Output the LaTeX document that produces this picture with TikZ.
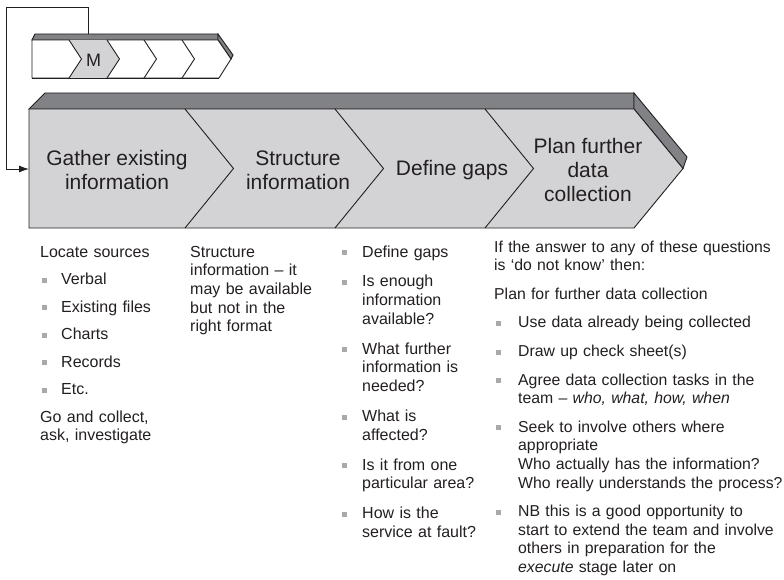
\documentclass[tikz,border=0pt]{standalone}
\usepackage{fontspec}
\setmainfont{Liberation Sans}
\usepackage{tikz}
\usetikzlibrary{arrows.meta,calc}
\definecolor{inkDark}{HTML}{231F20}
\definecolor{barLight}{HTML}{D3D3D5}
\definecolor{barStrip}{HTML}{808285}
\definecolor{bulletGray}{HTML}{A7A9AC}
\newcommand{\sqmark}[1][21pt]{\hangindent=#1\hangafter=1\noindent
  \makebox[#1][l]{\hspace{2pt}\textcolor{bulletGray}{\rule[1.8pt]{5pt}{5pt}}}\ignorespaces}
\newcommand{\sqitem}{\par\sqmark}
\tikzset{
  barEdge/.style={draw=inkDark, line width=0.9pt, line join=miter},
  loopArrow/.style={-{Latex[length=10pt,width=7pt]}, draw=inkDark, line width=0.9pt},
  stageText/.style={
    font=\fontsize{21}{24}\selectfont,
    text=inkDark,
    align=center,
    inner sep=0pt
  },
  noteText/.style={
    font=\fontsize{16}{18.7}\selectfont,
    text=inkDark,
    anchor=base west,
    align=left,
    inner sep=0pt
  }
}
\begin{document}
\begin{tikzpicture}[x=1pt, y=-1pt]
  \useasboundingbox (0,0) rectangle (784,580);

  % small chevron bar
  \filldraw[barEdge, fill=barStrip] (32,40) -- (35,34) -- (218,34) -- (218,40) -- cycle;
  \filldraw[barEdge, fill=barStrip] (218,34) -- (233,55) -- (231,59) -- (218,40) -- cycle;
  \filldraw[barEdge, fill=white] (32,40) -- (218,40) -- (231,59) -- (219,78) -- (32,78) -- cycle;
  \fill[barLight] (69,40) -- (107,40) -- (119.5,59) -- (107,78) -- (69,78) -- (81.5,59) -- cycle;
  \foreach \x in {69,107,144,182}
    \draw[barEdge] (\x,40) -- (\x+12.5,59) -- (\x,78);
  \draw[barEdge] (32,78) -- (219,78);
  \node[font=\fontsize{18}{20}\selectfont, text=inkDark, inner sep=0pt] (mlabel) at (93.5,60) {M};

  % main chevron bar
  \filldraw[barEdge, fill=barStrip] (29,109) -- (45,93) -- (634,93) -- (634,109) -- cycle;
  \filldraw[barEdge, fill=barStrip] (634,93) -- (687,157) -- (683,168.5) -- (634,109) -- cycle;
  \filldraw[barEdge, fill=barLight] (29,109) -- (634,109) -- (683,168.5) -- (634,228) -- (29,228) -- cycle;
  \foreach \x in {185,335,485}
    \draw[barEdge] (\x,109) -- (\x+48.5,168.5) -- (\x,228);

  \node[stageText] (gather) at (117,170) {Gather existing\\information};
  \node[stageText] (structure) at (298,170) {Structure\\information};
  \node[stageText] (gaps) at (452,170) {Define gaps};
  \node[stageText] (plan) at (588,170) {Plan further\\data\\collection};

  % loop back from M to the start
  \coordinate (mTop) at (88,34);
  \coordinate (loopCorner) at (6,7);
  \coordinate (barEntry) at (29,169);
  \draw[loopArrow] (mTop) |- (loopCorner) |- (barEntry);

  % notes under each stage
  \node[noteText, text width=140pt] (gatherNotes) at (40,257) {%
    \setlength{\parskip}{8.8pt}%
    Locate sources
    \sqitem Verbal
    \sqitem Existing files
    \sqitem Charts
    \sqitem Records
    \sqitem Etc.
    \par Go and collect,\newline ask, investigate\par};
  \node[noteText, text width=140pt] (structureNotes) at (190,257) {%
    Structure\newline information – it\newline may be available\newline but not in the\newline right format\par};
  \node[noteText, text width=150pt] (gapsNotes) at (340,257) {%
    \setlength{\parskip}{11.2pt}%
    \sqmark[22pt] Define gaps
    \par\sqmark[22pt] Is enough\newline information\newline available?
    \par\sqmark[22pt] What further\newline information is\newline needed?
    \par\sqmark[22pt] What is\newline affected?
    \par\sqmark[22pt] Is it from one\newline particular area?
    \par\sqmark[22pt] How is the\newline service at fault?\par};
  \node[noteText, text width=300pt, font=\fontsize{15.8}{18.6}\selectfont] (planNotes) at (494,252) {%
    \setlength{\parskip}{10pt}%
    If the answer to any of these questions\newline is ‘do not know’ then:
    \par Plan for further data collection
    \par\sqmark[24pt] Use data already being collected
    \par\sqmark[24pt] Draw up check sheet(s)
    \par\sqmark[24pt] Agree data collection tasks in the\newline team – \textit{who, what, how, when}
    \par\sqmark[24pt] Seek to involve others where\newline appropriate\newline Who actually has the information?\newline Who really understands the process?
    \par\sqmark[24pt] NB this is a good opportunity to\newline start to extend the team and involve\newline others in preparation for the\newline \textit{execute} stage later on\par};
\end{tikzpicture}
\end{document}
